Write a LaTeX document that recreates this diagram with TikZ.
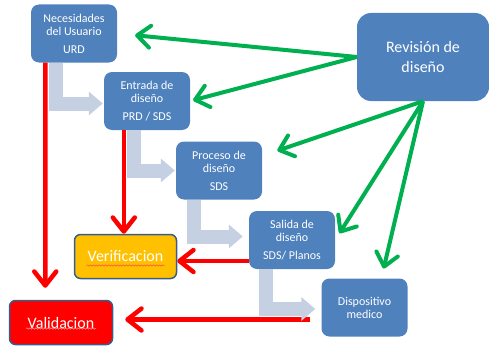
\documentclass[tikz,border=0pt]{standalone}
\usepackage{fontspec}
\setmainfont{Carlito}
\usetikzlibrary{arrows.meta,decorations.pathmorphing}

\definecolor{boxblue}{RGB}{79,129,189}
\definecolor{boxline}{RGB}{56,93,138}
\definecolor{flowgray}{RGB}{197,208,226}
\definecolor{revgreen}{RGB}{0,176,80}
\definecolor{vergold}{RGB}{255,192,0}
\definecolor{wavepink}{RGB}{255,160,160}

\begin{document}
\begin{tikzpicture}[x=1pt, y=-1pt]

\tikzstyle{stage} = [rectangle, rounded corners=8pt, fill=boxblue, text=white, align=center, font=\fontsize{12}{13}\selectfont, minimum width=86pt, minimum height=58pt, inner sep=2pt]
\tikzstyle{check} = [rectangle, rounded corners=6pt, draw=boxline, line width=1.5pt, text=white, font=\fontsize{16}{19}\selectfont, minimum height=44pt]
\tikzstyle{flow} = [line width=14pt, flowgray, line join=miter, -{Triangle[length=14pt, width=23pt]}]
\tikzstyle{review} = [line width=4pt, revgreen, -{Straight Barb[length=13pt, width=22pt, round]}]
\tikzstyle{test} = [line width=4.5pt, red, -{Straight Barb[length=14pt, width=22pt, round]}]
\tikzstyle{wavy} = [line width=0.5pt, decorate, decoration={snake, amplitude=0.7pt, segment length=3pt}]

\useasboundingbox (0,0) rectangle (489,345);

\node[stage] (nec) at (74,33.5) {Necesidades\\del Usuario\\[5pt]URD};
\node[stage] (ent) at (147,101) {Entrada de\\dise\~no\\[5pt]PRD / SDS};
\node[stage] (pro) at (219,170.5) {Proceso de\\dise\~no\\[5pt]SDS};
\node[stage] (sal) at (292,240) {Salida de\\dise\~no\\[5pt]SDS/ Planos};
\node[stage] (disp) at (364.5,307.5) {Dispositivo\\medico};

\node[stage, rounded corners=14pt, minimum width=132pt, minimum height=88pt, font=\fontsize{16}{20}\selectfont] (rev) at (423,57) {Revisi\'on de\\dise\~no};

\node[check, fill=vergold, minimum width=102pt] (ver) at (125.5,256.5) {Verificacion};
\node[check, fill=red, minimum width=103pt] (val) at (61,322.5) {Validacion};

\draw[wavy, red!70] ([xshift=-39pt, yshift=-9pt]ver.center) -- ([xshift=39pt, yshift=-9pt]ver.center);
\draw[wavy, wavepink] ([xshift=-35pt, yshift=-6pt]val.center) -- ([xshift=35pt, yshift=-6pt]val.center);

\draw[test, shorten >=12pt] ([xshift=14.5pt]nec.south west) -- ([xshift=36.5pt]val.north west);
\draw[test] ([xshift=20pt]ent.south west) -- ([xshift=20pt]ent.south west |- ver.north);
\draw[test] ([yshift=-21pt]sal.west) -- ([yshift=-21pt]sal.west -| ver.east);
\draw[test, shorten <=11pt, shorten >=12pt] ([yshift=-12pt]disp.west) -- ([yshift=-12pt]disp.west -| val.east);

\draw[flow, shorten >=1pt] ([xshift=25.5pt]nec.south west) |- ([yshift=-2.5pt]ent.west);
\draw[flow, shorten >=1pt] ([xshift=30.5pt]ent.south west) |- (pro.west);
\draw[flow, shorten >=6pt] ([xshift=18.5pt]pro.south west) |- ([yshift=3.5pt]sal.west);
\draw[flow, shorten >=6pt] ([xshift=17.5pt]sal.south west) |- ([yshift=-1.5pt]disp.west);

\draw[review, shorten >=18pt] (rev.west) -- (nec.east);
\draw[review, shorten >=3pt] (rev.west) -- (ent.east);
\draw[review, shorten >=16pt] (rev.south) -- (pro);
\draw[review, shorten >=8pt] (rev.south) -- (sal.east);
\draw[review, shorten >=10pt] (rev.south) -- (disp.60);

\end{tikzpicture}
\end{document}
